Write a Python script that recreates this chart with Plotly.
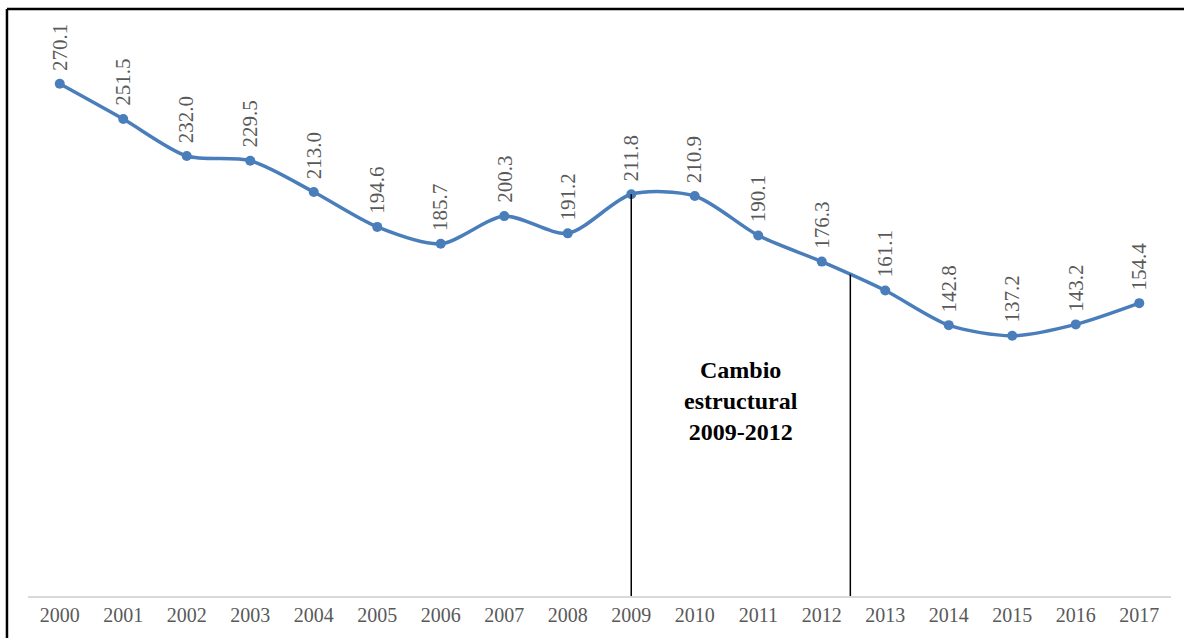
import plotly.graph_objects as go

years = [str(y) for y in range(2000, 2018)]
values = [270.1, 251.5, 232.0, 229.5, 213.0, 194.6, 185.7, 200.3, 191.2,
          211.8, 210.9, 190.1, 176.3, 161.1, 142.8, 137.2, 143.2, 154.4]
labels = [f"{v:.1f}" for v in values]

# structural-change markers (category index positions and line tops)
break_x = [9, 12.45]
break_top = [211.8, 169.5]
note_text = "Cambio<br>estructural<br>2009-2012"
note_pos = (10.73, 103)

blue = "#4A7EBB"
gray_txt = "#595959"
serif = "Liberation Serif, Times New Roman, serif"

idx = list(range(len(years)))

fig = go.Figure()
fig.add_trace(go.Scatter(
    x=idx, y=values, mode="lines+markers",
    line=dict(color=blue, width=3.5, shape="spline", smoothing=0.8),
    marker=dict(color=blue, size=10),
    hoverinfo="skip", showlegend=False,
))

for xv, top in zip(break_x, break_top):
    fig.add_shape(type="line", x0=xv, x1=xv, y0=0, y1=top,
                  xref="x", yref="y", line=dict(color="black", width=1.5))

annotations = []
for i, (v, t) in enumerate(zip(values, labels)):
    annotations.append(dict(
        x=i, y=v, xref="x", yref="y", text=t, textangle=-90,
        showarrow=False, yanchor="bottom", xanchor="center", yshift=11,
        font=dict(family=serif, size=21, color=gray_txt),
    ))
annotations.append(dict(
    x=note_pos[0], y=note_pos[1], xref="x", yref="y", text=f"<b>{note_text}</b>",
    showarrow=False, font=dict(family=serif, size=24, color="black"),
    align="center",
))

# outer frame (top and left edges)
fig.add_shape(type="line", xref="paper", yref="paper", x0=-0.0184, x1=1.02,
              y0=1.0316, y1=1.0316, line=dict(color="black", width=2.5))
fig.add_shape(type="line", xref="paper", yref="paper", x0=-0.0184, x1=-0.0184,
              y0=1.0316, y1=-0.08, line=dict(color="black", width=2.5))

fig.update_layout(
    width=1184, height=638,
    margin=dict(l=28, r=13, t=27, b=42),
    paper_bgcolor="white", plot_bgcolor="white",
    annotations=annotations,
    xaxis=dict(
        range=[-0.5, len(years) - 0.5], tickmode="array", tickvals=idx,
        ticktext=years, showgrid=False, zeroline=False, showline=True,
        linecolor="#D9D9D9", linewidth=1.5, ticks="",
        tickfont=dict(family=serif, size=20, color=gray_txt),
    ),
    yaxis=dict(range=[0, 300], showgrid=False, zeroline=False,
               showticklabels=False, showline=False),
)

fig.write_html("out.html")
